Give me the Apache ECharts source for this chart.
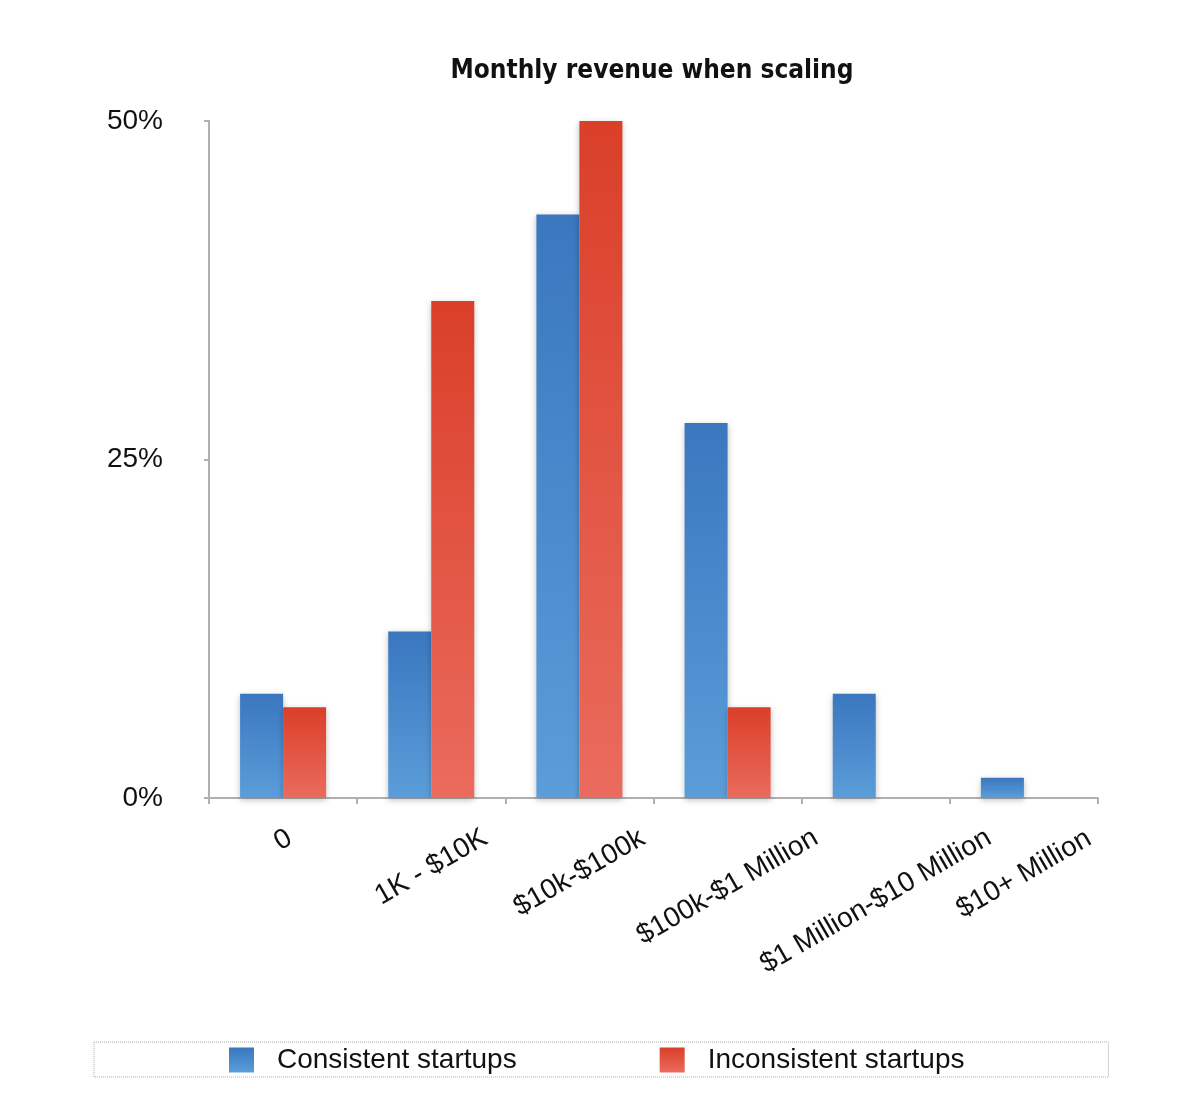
<!DOCTYPE html>
<html>
<head>
<meta charset="utf-8">
<title>Monthly revenue when scaling</title>
<script src="https://cdn.jsdelivr.net/npm/echarts@6/dist/echarts.min.js"></script>
<style>
  html, body { margin: 0; padding: 0; background: #fff; }
  #chart { width: 1200px; height: 1110px; }
</style>
</head>
<body>
<div id="chart"></div>
<script>
const categories = ['0', '1K - $10K', '$10k-$100k', '$100k-$1 Million', '$1 Million-$10 Million', '$10+ Million']
const consistent = [7.7, 12.3, 43.1, 27.7, 7.7, 1.5]
const inconsistent = [6.7, 36.7, 50, 6.7, 0, 0]
const yTicks = [0, 25, 50]

const FONT = 'Helvetica, Arial, "Liberation Sans", sans-serif'
const LABEL_SIZE = 28

// measure the axis labels so the rotated text can be centred under its category
const ctx = document.createElement('canvas').getContext('2d')
ctx.font = LABEL_SIZE + 'px ' + FONT
const rich = {}
categories.forEach((c, i) => {
  const w = ctx.measureText(c).width
  const p = Math.round(w / 4 + 30)
  rich['l' + i] = {
    fontSize: LABEL_SIZE,
    fontFamily: FONT,
    color: '#111',
    padding: [Math.round(p * 1.732), p, 0, 0]
  }
})

function grad(top, bottom) {
  return new echarts.graphic.LinearGradient(0, 0, 0, 1, [
    { offset: 0, color: top },
    { offset: 1, color: bottom }
  ])
}

const chart = echarts.init(document.getElementById('chart'))

chart.setOption({
  backgroundColor: '#fff',
  animation: false,
  title: {
    text: 'Monthly revenue when scaling',
    left: 647,
    textAlign: 'center',
    top: 53,
    textStyle: {
      fontFamily: '"Liberation Sans Narrow", "Arial Narrow", "DejaVu Sans Condensed", sans-serif',
      fontWeight: 'bold',
      fontSize: 26,
      color: '#111'
    }
  },
  legend: {
    left: 94,
    top: 1042,
    padding: [4, 144, 3, 135],
    itemWidth: 25,
    itemHeight: 25,
    itemGap: 143,
    icon: 'rect',
    borderColor: '#aaa',
    borderWidth: 1,
    borderType: 'dotted',
    textStyle: {
      fontFamily: FONT,
      fontSize: 28,
      color: '#111',
      lineHeight: 26,
      padding: [0, 0, 0, 18]
    },
    data: ['Consistent startups', 'Inconsistent startups']
  },
  grid: {
    left: 209,
    right: 102,
    top: 121,
    bottom: 312
  },
  xAxis: {
    type: 'category',
    data: categories,
    axisLine: { lineStyle: { color: '#b0b0b0', width: 2 } },
    axisTick: { show: true, length: 6, lineStyle: { color: '#b0b0b0', width: 2 } },
    axisLabel: {
      interval: 0,
      rotate: 30,
      align: 'center',
      verticalAlign: 'middle',
      margin: 8,
      formatter: (v, i) => '{l' + i + '|' + v + '}',
      rich: rich
    }
  },
  yAxis: {
    type: 'value',
    min: 0,
    max: 50,
    interval: 25,
    splitLine: { show: false },
    axisLine: { show: true, lineStyle: { color: '#b0b0b0', width: 2 } },
    axisTick: { show: true, length: 5, lineStyle: { color: '#b0b0b0', width: 2 } },
    axisLabel: {
      margin: 46,
      fontFamily: FONT,
      fontSize: 28,
      color: '#111',
      formatter: v => (yTicks.indexOf(v) >= 0 ? v + '%' : '')
    }
  },
  series: [
    {
      name: 'Consistent startups',
      type: 'bar',
      data: consistent,
      barWidth: 43,
      barGap: '0%',
      itemStyle: {
        color: grad('#3a77bf', '#5b9dda'),
        shadowColor: 'rgba(0,0,0,0.25)',
        shadowBlur: 6,
        shadowOffsetY: 2
      }
    },
    {
      name: 'Inconsistent startups',
      type: 'bar',
      data: inconsistent,
      barWidth: 43,
      barGap: '0%',
      itemStyle: {
        color: grad('#da3f29', '#ea6b5d'),
        shadowColor: 'rgba(0,0,0,0.25)',
        shadowBlur: 6,
        shadowOffsetY: 2
      }
    }
  ]
})
</script>
</body>
</html>
